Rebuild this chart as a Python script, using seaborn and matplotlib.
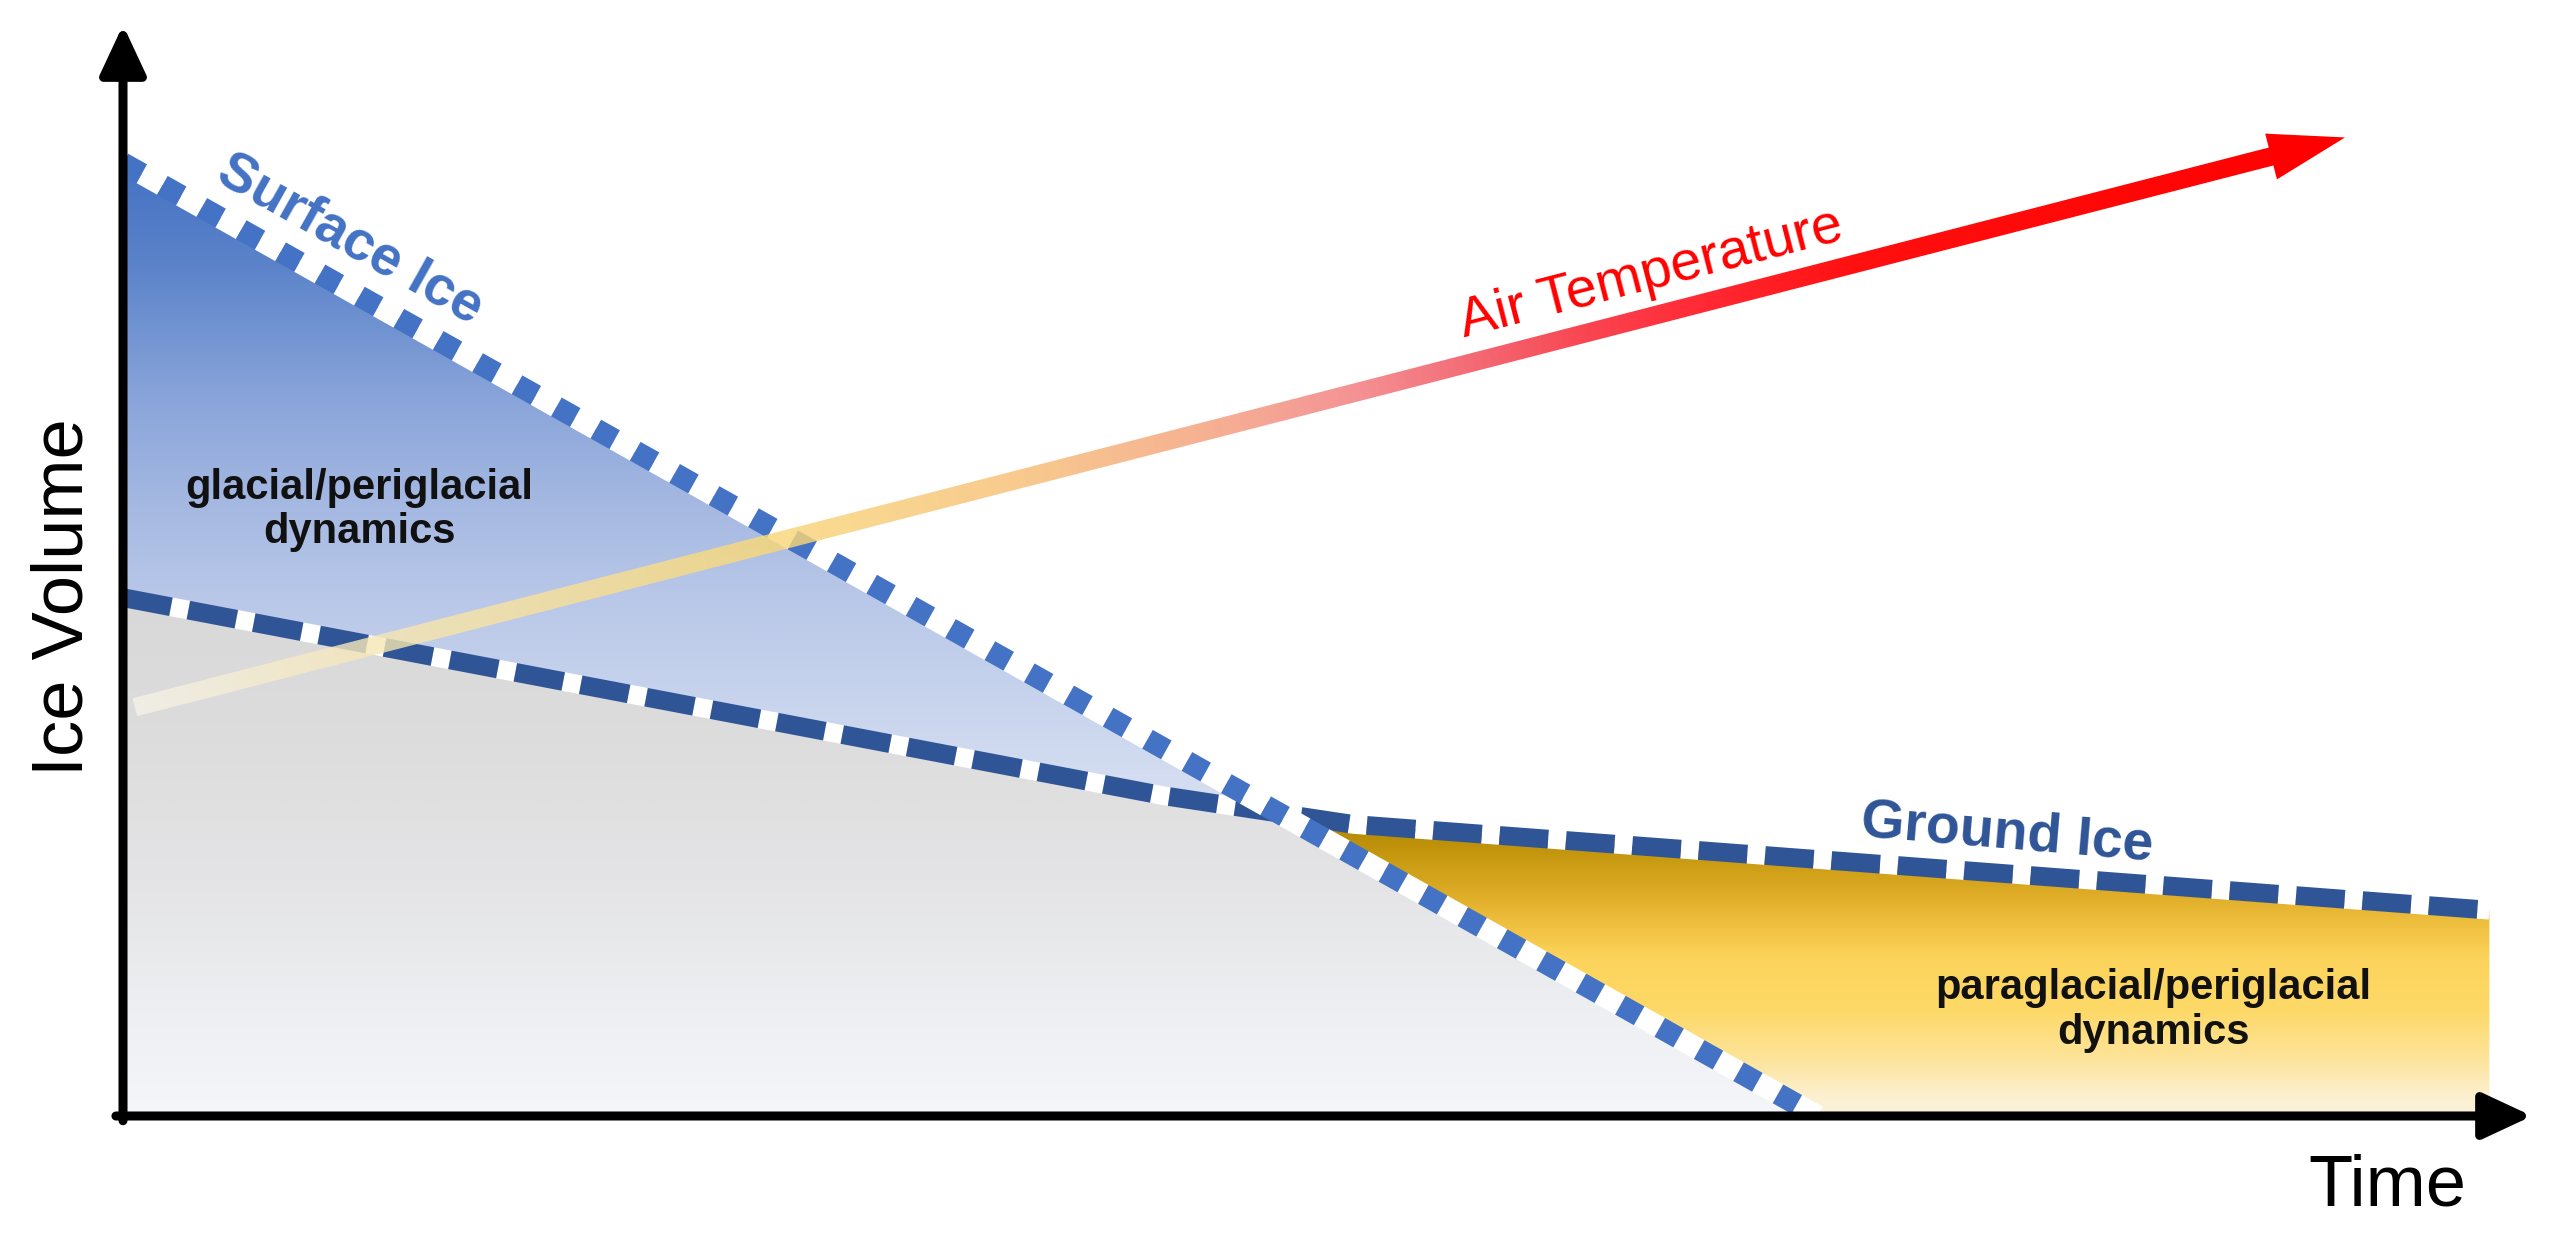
import numpy as np
import matplotlib
matplotlib.use("Agg")
import matplotlib.pyplot as plt
import seaborn as sns
from matplotlib.colors import LinearSegmentedColormap
from matplotlib.patches import Polygon

# ---- data (arbitrary units: time 0-100, ice volume 0-100) ----
surface_t = [0, 71.6]
surface_v = [100, 0]
ground_t = [0, 44, 52, 100]
ground_v = [54.4, 33.6, 30.6, 21.6]
temp_start = (0.5, 42.9)
temp_tip = (93.9, 102.7)
x_max, y_max = 101.8, 114.5

labels = {"surface": "Surface Ice", "ground": "Ground Ice", "temp": "Air Temperature"}
region_glacial = "glacial/periglacial\ndynamics"
region_paraglacial = "paraglacial/periglacial\ndynamics"

# ---- colours ----
SURF_C, GROUND_C = "#4472c4", "#2f5597"
BLUE = [(0, "#f5f7fc"), (0.30, "#dbe2f2"), (0.40, "#cdd8ef"), (0.55, "#b8c7e8"),
        (0.65, "#a3b7e1"), (0.75, "#8aa5da"), (0.90, "#5a82c9"), (1.0, "#4472c4")]
GRAY = [(0, "#f5f6fa"), (0.2, "#eeeff2"), (0.45, "#e4e4e6"), (0.75, "#dcdcdc"), (1.0, "#d8d8d8")]
GOLD = [(0, "#fbf3dc"), (2 / 31, "#fcf0d0"), (6 / 31, "#fde49a"), (11 / 31, "#fed968"),
        (16.5 / 31, "#fcd45c"), (20 / 31, "#f0c040"), (23.5 / 31, "#ddab25"),
        (27 / 31, "#c89a12"), (1.0, "#b08400")]
TEMP = [(0, "#f5f2e8"), (0.12, "#f7e6b0"), (0.28, "#f9d97a"), (0.40, "#f7c078"),
        (0.48, "#f5a47e"), (0.55, "#f3878a"), (0.62, "#f45a66"), (0.70, "#ff2e3a"),
        (0.78, "#ff1010"), (1.0, "#ff0000")]


def vgrad(stops):
    return LinearSegmentedColormap.from_list("g", stops)(np.linspace(0, 1, 512))[:, None, :]


sns.set_theme(style="white")
plt.rcParams["font.family"] = ["Liberation Sans", "DejaVu Sans"]

fig = plt.figure(figsize=(25.53, 12.39), dpi=100)
ax = fig.add_axes([123 / 2553, 1 - 1116 / 1239, (2532 - 123) / 2553, (1116 - 25) / 1239])
ax.set_xlim(0, x_max); ax.set_ylim(0, y_max)
ax.set_autoscale_on(False)
ax.set_xticks([]); ax.set_yticks([])
for sp in ax.spines.values():
    sp.set_visible(False)
ax.patch.set_alpha(0)

# ---- shaded regions (gradients clipped to the areas between the curves) ----
tt = np.linspace(0, 100, 1001)
s = np.interp(tt, surface_t, surface_v)
g = np.interp(tt, ground_t, ground_v)
under_surf = ax.fill_between(tt, 0, s, color="none", lw=0)
under_min = ax.fill_between(tt, 0, np.minimum(s, g), color="none", lw=0)
gold_area = ax.fill_between(tt, s, g, where=g >= s, interpolate=True, color="none", lw=0)

for reg, stops, top, z in [(under_surf, BLUE, 100, 1), (under_min, GRAY, 55, 1.1), (gold_area, GOLD, 31, 1.2)]:
    im = ax.imshow(vgrad(stops), extent=(0, 100, 0, top), origin="lower", aspect="auto",
                   interpolation="bilinear", zorder=z)
    im.set_clip_path(reg.get_paths()[0], transform=ax.transData)

# ---- ice lines ----
sns.lineplot(x=ground_t, y=ground_v, ax=ax, color=GROUND_C, lw=13.5, linestyle=(0, (2.6, 0.95)),
             gapcolor="white", dash_capstyle="butt", errorbar=None, zorder=3)
sns.lineplot(x=surface_t, y=surface_v, ax=ax, color=SURF_C, lw=15.5, linestyle=(0, (1.0, 1.1)),
             gapcolor="white", dash_capstyle="butt", errorbar=None, zorder=3.5)

# ---- air temperature arrow with colour gradient ----
p0 = ax.transData.transform(temp_start)
p2 = ax.transData.transform(temp_tip)
L = np.hypot(*(p2 - p0))
d = (p2 - p0) / L
nrm = np.array([-d[1], d[0]])
head_px = 55 * fig.dpi / 72
half = 18.5 / 2
p1 = p2 - d * head_px * 0.85
corners = ax.transData.inverted().transform(
    np.array([p0 + nrm * half, p1 + nrm * half, p1 - nrm * half, p0 - nrm * half]))
shaft = Polygon(corners, closed=True, transform=ax.transData)
(x0, y0), (x1, y1) = corners.min(0), corners.max(0)
gx, gy = np.meshgrid(np.linspace(x0, x1, 900), np.linspace(y0, y1, 300))
pts = ax.transData.transform(np.column_stack([gx.ravel(), gy.ravel()]))
f = np.clip(((pts - p0) @ d) / L, 0, 1).reshape(gx.shape)
rgba = LinearSegmentedColormap.from_list("t", TEMP)(f)
rgba[..., 3] = np.interp(f, [0, 0.5, 0.65, 1], [0.8, 0.85, 1, 1])
im = ax.imshow(rgba, extent=(x0, x1, y0, y1), origin="lower", aspect="auto",
               interpolation="bilinear", zorder=4)
im.set_clip_path(shaft)
ax.annotate("", xy=temp_tip, xytext=ax.transData.inverted().transform(p2 - d * head_px * 2),
            arrowprops=dict(arrowstyle="-|>,head_length=55,head_width=17", mutation_scale=1,
                            lw=0, color="#ff0000", shrinkA=0, shrinkB=0), zorder=5)

# ---- axes as arrows ----
ax_arrow = dict(arrowstyle="-|>,head_length=30,head_width=14", mutation_scale=1, lw=6.5,
                color="black", shrinkA=0, shrinkB=0)
ax.annotate("", xy=(0, y_max), xytext=(0, -0.5), arrowprops=ax_arrow, annotation_clip=False, zorder=6)
ax.annotate("", xy=(x_max, 0), xytext=(-0.3, 0), arrowprops=ax_arrow, annotation_clip=False, zorder=6)


def screen_angle(a, b):
    (ax0, ay0), (bx0, by0) = ax.transData.transform([a, b])
    return np.degrees(np.arctan2(by0 - ay0, bx0 - ax0))


ax.text(9.6, 92.0, labels["surface"], color=SURF_C, fontsize=40, fontweight="bold",
        rotation=screen_angle((surface_t[0], surface_v[0]), (surface_t[1], surface_v[1])),
        rotation_mode="anchor", ha="center", va="center", zorder=5)
ax.text(79.6, 29.6, labels["ground"], color=GROUND_C, fontsize=40, fontweight="bold",
        rotation=screen_angle((ground_t[2], ground_v[2]), (ground_t[3], ground_v[3])) - 0.5,
        rotation_mode="anchor", ha="center", va="center", zorder=5)
ax.text(64.6, 88.3, labels["temp"], color="#ff0000", fontsize=40,
        rotation=screen_angle(temp_start, temp_tip), rotation_mode="anchor",
        ha="center", va="center", zorder=5)
ax.text(10.0, 63.6, region_glacial, color="#111111", fontsize=30, fontweight="bold",
        ha="center", va="center", linespacing=1.12, zorder=5)
ax.text(85.8, 11.1, region_paraglacial, color="#111111", fontsize=30, fontweight="bold",
        ha="center", va="center", linespacing=1.15, zorder=5)

# axis titles
ax.text(-0.0245, 0.476, "Ice Volume", transform=ax.transAxes, fontsize=52, color="black",
        rotation=90, ha="center", va="center", clip_on=False)
ax.text(0.940, -0.082, "Time", transform=ax.transAxes, fontsize=52, color="black",
        ha="center", va="baseline", clip_on=False)

ax.set_xlim(0, x_max); ax.set_ylim(0, y_max)
fig.savefig("out.png", dpi=100, facecolor="white")
